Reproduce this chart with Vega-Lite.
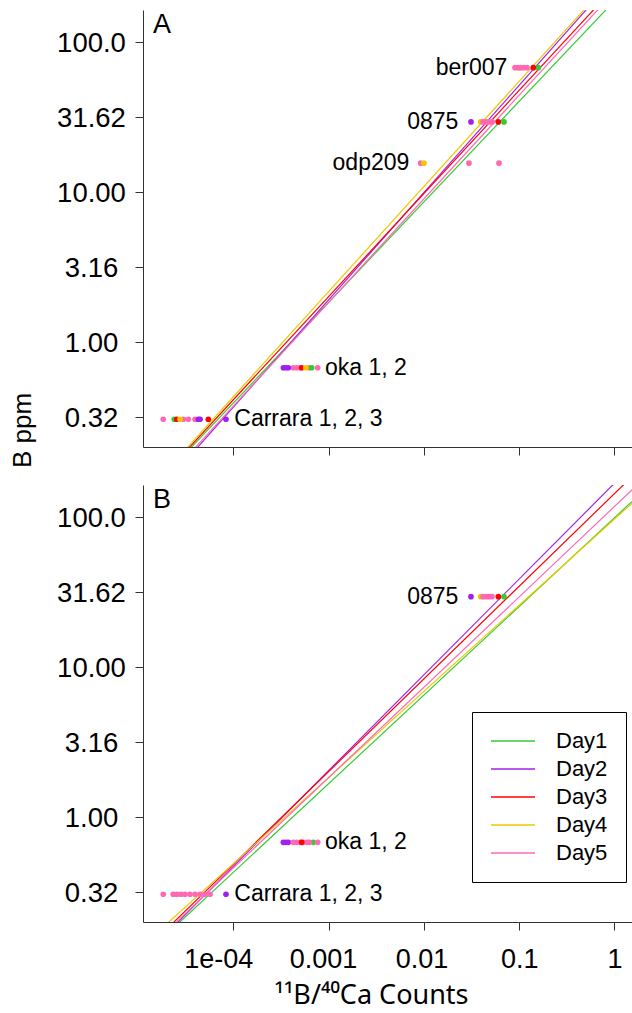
{
  "$schema": "https://vega.github.io/schema/vega-lite/v6.json",
  "background": "white",
  "padding": {"left": 9, "top": 10, "right": 0, "bottom": 4},
  "config": {
    "font": "Liberation Sans",
    "view": {"stroke": null},
    "axis": {"grid": false, "domainColor": "#333", "tickColor": "#333", "labelColor": "black", "titleColor": "black", "titleFontWeight": "normal", "labelFont": "Liberation Sans", "titleFont": "Liberation Sans"}
  },
  "datasets": {
    "lines": [
      {"panel": "A", "day": "Day1", "x": 1.0990, "y": 199.53}, {"panel": "A", "day": "Day1", "x": 2.606e-5, "y": 0.15849},
      {"panel": "A", "day": "Day2", "x": 0.6683, "y": 199.53}, {"panel": "A", "day": "Day2", "x": 3.105e-5, "y": 0.15849},
      {"panel": "A", "day": "Day3", "x": 0.8091, "y": 199.53}, {"panel": "A", "day": "Day3", "x": 2.512e-5, "y": 0.15849},
      {"panel": "A", "day": "Day4", "x": 0.6383, "y": 199.53}, {"panel": "A", "day": "Day4", "x": 2.415e-5, "y": 0.15849},
      {"panel": "A", "day": "Day5", "x": 0.8933, "y": 199.53}, {"panel": "A", "day": "Day5", "x": 2.911e-5, "y": 0.15849},
      {"panel": "B", "day": "Day1", "x": 3.311, "y": 199.53}, {"panel": "B", "day": "Day1", "x": 1.879e-5, "y": 0.15849},
      {"panel": "B", "day": "Day2", "x": 1.318, "y": 199.53}, {"panel": "B", "day": "Day2", "x": 1.849e-5, "y": 0.15849},
      {"panel": "B", "day": "Day3", "x": 1.722, "y": 199.53}, {"panel": "B", "day": "Day3", "x": 1.656e-5, "y": 0.15849},
      {"panel": "B", "day": "Day4", "x": 3.548, "y": 199.53}, {"panel": "B", "day": "Day4", "x": 1.422e-5, "y": 0.15849},
      {"panel": "B", "day": "Day5", "x": 2.421, "y": 199.53}, {"panel": "B", "day": "Day5", "x": 1.742e-5, "y": 0.15849}
    ],
    "points": [
      {"panel": "A", "sample": "ber007", "day": "Day1", "x": 0.1585, "y": 67.1},
      {"panel": "A", "sample": "ber007", "day": "Day3", "x": 0.1406, "y": 67.1},
      {"panel": "A", "sample": "ber007", "day": "Day4", "x": 0.1019, "y": 67.1},
      {"panel": "A", "sample": "ber007", "day": "Day5", "x": 0.0904, "y": 67.1},
      {"panel": "A", "sample": "ber007", "day": "Day5", "x": 0.0971, "y": 67.1},
      {"panel": "A", "sample": "ber007", "day": "Day5", "x": 0.1044, "y": 67.1},
      {"panel": "A", "sample": "ber007", "day": "Day5", "x": 0.1122, "y": 67.1},
      {"panel": "A", "sample": "ber007", "day": "Day5", "x": 0.1207, "y": 67.1},
      {"panel": "A", "sample": "0875", "day": "Day1", "x": 0.0693, "y": 29.2},
      {"panel": "A", "sample": "0875", "day": "Day2", "x": 0.0312, "y": 29.2},
      {"panel": "A", "sample": "0875", "day": "Day3", "x": 0.0604, "y": 29.2},
      {"panel": "A", "sample": "0875", "day": "Day4", "x": 0.0394, "y": 29.2},
      {"panel": "A", "sample": "0875", "day": "Day5", "x": 0.0417, "y": 29.2},
      {"panel": "A", "sample": "0875", "day": "Day5", "x": 0.0449, "y": 29.2},
      {"panel": "A", "sample": "0875", "day": "Day5", "x": 0.0482, "y": 29.2},
      {"panel": "A", "sample": "0875", "day": "Day5", "x": 0.0518, "y": 29.2},
      {"panel": "A", "sample": "odp209", "day": "Day5", "x": 0.00925, "y": 15.5},
      {"panel": "A", "sample": "odp209", "day": "Day4", "x": 0.01002, "y": 15.5},
      {"panel": "A", "sample": "odp209", "day": "Day5", "x": 0.0297, "y": 15.5},
      {"panel": "A", "sample": "odp209", "day": "Day5", "x": 0.0614, "y": 15.5},
      {"panel": "A", "sample": "oka", "day": "Day5", "x": 0.000426, "y": 0.67},
      {"panel": "A", "sample": "oka", "day": "Day5", "x": 0.000461, "y": 0.67},
      {"panel": "A", "sample": "oka", "day": "Day5", "x": 0.000501, "y": 0.67},
      {"panel": "A", "sample": "oka", "day": "Day5", "x": 0.000627, "y": 0.67},
      {"panel": "A", "sample": "oka", "day": "Day5", "x": 0.000769, "y": 0.67},
      {"panel": "A", "sample": "oka", "day": "Day1", "x": 0.000665, "y": 0.67},
      {"panel": "A", "sample": "oka", "day": "Day2", "x": 0.000335, "y": 0.67},
      {"panel": "A", "sample": "oka", "day": "Day2", "x": 0.000357, "y": 0.67},
      {"panel": "A", "sample": "oka", "day": "Day2", "x": 0.000378, "y": 0.67},
      {"panel": "A", "sample": "oka", "day": "Day3", "x": 0.000522, "y": 0.67},
      {"panel": "A", "sample": "oka", "day": "Day4", "x": 0.000575, "y": 0.67},
      {"panel": "A", "sample": "Carrara", "day": "Day5", "x": 1.84e-5, "y": 0.304},
      {"panel": "A", "sample": "Carrara", "day": "Day5", "x": 2.99e-5, "y": 0.304},
      {"panel": "A", "sample": "Carrara", "day": "Day5", "x": 3.37e-5, "y": 0.304},
      {"panel": "A", "sample": "Carrara", "day": "Day5", "x": 3.97e-5, "y": 0.304},
      {"panel": "A", "sample": "Carrara", "day": "Day1", "x": 2.40e-5, "y": 0.304},
      {"panel": "A", "sample": "Carrara", "day": "Day3", "x": 2.55e-5, "y": 0.304},
      {"panel": "A", "sample": "Carrara", "day": "Day4", "x": 2.76e-5, "y": 0.304},
      {"panel": "A", "sample": "Carrara", "day": "Day3", "x": 5.47e-5, "y": 0.304},
      {"panel": "A", "sample": "Carrara", "day": "Day2", "x": 4.29e-5, "y": 0.304},
      {"panel": "A", "sample": "Carrara", "day": "Day2", "x": 4.48e-5, "y": 0.304},
      {"panel": "A", "sample": "Carrara", "day": "Day2", "x": 8.38e-5, "y": 0.304},
      {"panel": "B", "sample": "0875", "day": "Day1", "x": 0.0693, "y": 29.3},
      {"panel": "B", "sample": "0875", "day": "Day2", "x": 0.0312, "y": 29.3},
      {"panel": "B", "sample": "0875", "day": "Day3", "x": 0.0604, "y": 29.3},
      {"panel": "B", "sample": "0875", "day": "Day4", "x": 0.0394, "y": 29.3},
      {"panel": "B", "sample": "0875", "day": "Day5", "x": 0.0417, "y": 29.3},
      {"panel": "B", "sample": "0875", "day": "Day5", "x": 0.0449, "y": 29.3},
      {"panel": "B", "sample": "0875", "day": "Day5", "x": 0.0482, "y": 29.3},
      {"panel": "B", "sample": "0875", "day": "Day5", "x": 0.0518, "y": 29.3},
      {"panel": "B", "sample": "oka", "day": "Day2", "x": 0.000335, "y": 0.675},
      {"panel": "B", "sample": "oka", "day": "Day2", "x": 0.000357, "y": 0.675},
      {"panel": "B", "sample": "oka", "day": "Day2", "x": 0.000378, "y": 0.675},
      {"panel": "B", "sample": "oka", "day": "Day1", "x": 0.00069, "y": 0.675},
      {"panel": "B", "sample": "oka", "day": "Day5", "x": 0.000426, "y": 0.675},
      {"panel": "B", "sample": "oka", "day": "Day5", "x": 0.000461, "y": 0.675},
      {"panel": "B", "sample": "oka", "day": "Day5", "x": 0.000501, "y": 0.675},
      {"panel": "B", "sample": "oka", "day": "Day5", "x": 0.00054, "y": 0.675},
      {"panel": "B", "sample": "oka", "day": "Day5", "x": 0.00059, "y": 0.675},
      {"panel": "B", "sample": "oka", "day": "Day5", "x": 0.000627, "y": 0.675},
      {"panel": "B", "sample": "oka", "day": "Day5", "x": 0.000769, "y": 0.675},
      {"panel": "B", "sample": "oka", "day": "Day3", "x": 0.000522, "y": 0.675},
      {"panel": "B", "sample": "Carrara", "day": "Day2", "x": 8.38e-5, "y": 0.304},
      {"panel": "B", "sample": "Carrara", "day": "Day5", "x": 1.84e-5, "y": 0.304},
      {"panel": "B", "sample": "Carrara", "day": "Day5", "x": 2.34e-5, "y": 0.304},
      {"panel": "B", "sample": "Carrara", "day": "Day5", "x": 2.56e-5, "y": 0.304},
      {"panel": "B", "sample": "Carrara", "day": "Day5", "x": 2.82e-5, "y": 0.304},
      {"panel": "B", "sample": "Carrara", "day": "Day5", "x": 3.11e-5, "y": 0.304},
      {"panel": "B", "sample": "Carrara", "day": "Day5", "x": 3.51e-5, "y": 0.304},
      {"panel": "B", "sample": "Carrara", "day": "Day5", "x": 3.97e-5, "y": 0.304},
      {"panel": "B", "sample": "Carrara", "day": "Day5", "x": 4.48e-5, "y": 0.304},
      {"panel": "B", "sample": "Carrara", "day": "Day5", "x": 5.04e-5, "y": 0.304},
      {"panel": "B", "sample": "Carrara", "day": "Day5", "x": 5.70e-5, "y": 0.304}
    ],
    "labels": [
      {"panel": "A", "text": "ber007", "side": "right", "x": 0.0750, "y": 67.1},
      {"panel": "A", "text": "0875", "side": "right", "x": 0.0230, "y": 29.2},
      {"panel": "A", "text": "odp209", "side": "right", "x": 0.00703, "y": 15.5},
      {"panel": "A", "text": "oka 1, 2", "side": "left", "x": 0.000916, "y": 0.67},
      {"panel": "A", "text": "Carrara 1, 2, 3", "side": "left", "x": 0.0001024, "y": 0.304},
      {"panel": "B", "text": "0875", "side": "right", "x": 0.0230, "y": 29.3},
      {"panel": "B", "text": "oka 1, 2", "side": "left", "x": 0.000916, "y": 0.675},
      {"panel": "B", "text": "Carrara 1, 2, 3", "side": "left", "x": 0.0001024, "y": 0.304}
    ],
    "letters": [
      {"panel": "A", "text": "A", "x": 1.436e-5, "y": 113.8},
      {"panel": "B", "text": "B", "x": 1.436e-5, "y": 113.8}
    ]
  },
  "bounds": "flush",
  "spacing": 38,
  "resolve": {"legend": {"color": "independent"}},
  "vconcat": [
    {
      "width": 489,
      "height": 437,
      "encoding": {
        "x": {"field": "x", "type": "quantitative", "scale": {"type": "log", "domain": [1.1284e-5, 1.5264], "nice": false},
          "axis": {"values": [0.0001, 0.001, 0.01, 0.1, 1], "labels": false, "title": null, "tickSize": 8}},
        "y": {"field": "y", "type": "quantitative", "scale": {"type": "log", "domain": [0.19861, 162.69], "nice": false},
          "axis": {"values": [0.316228, 1, 3.16228, 10, 31.6228, 100],
            "labelExpr": "datum.value < 0.5 ? '0.32' : datum.value < 2 ? '1.00' : datum.value < 5 ? '3.16' : datum.value < 20 ? '10.00' : datum.value < 50 ? '31.62' : '100.0'",
            "labelAlign": "center", "labelBaseline": "middle", "labelOffset": 1.5, "labelPadding": 44, "labelFontSize": 27.5, "tickSize": 8,
            "title": "B ppm", "titleFontSize": 26, "titleAngle": 270, "titleAlign": "center", "titleBaseline": "alphabetic", "titleX": -113, "titleY": 420}}
      },
      "layer": [
        {"data": {"name": "lines"}, "transform": [{"filter": "datum.panel === 'A'"}],
         "mark": {"type": "line", "clip": true, "strokeWidth": 1.2},
         "encoding": {"color": {"field": "day", "type": "nominal", "scale": {"domain": ["Day1", "Day2", "Day3", "Day4", "Day5"], "range": ["#32CD32", "#A020F0", "#FF0000", "#EEC900", "#FF69B4"]}, "legend": null}}},
        {"data": {"name": "points"}, "transform": [{"filter": "datum.panel === 'A'"}],
         "mark": {"type": "circle", "size": 32, "opacity": 1},
         "encoding": {"fill": {"field": "day", "type": "nominal", "scale": {"domain": ["Day1", "Day2", "Day3", "Day4", "Day5"], "range": ["#32CD32", "#A020F0", "#FF0000", "#EEC900", "#FF69B4"]}, "legend": null}}},
        {"data": {"name": "labels"}, "transform": [{"filter": "datum.panel === 'A' && datum.side === 'right'"}],
         "mark": {"type": "text", "align": "right", "baseline": "middle", "fontSize": 23, "color": "black"},
         "encoding": {"text": {"field": "text"}}},
        {"data": {"name": "labels"}, "transform": [{"filter": "datum.panel === 'A' && datum.side === 'left'"}],
         "mark": {"type": "text", "align": "left", "baseline": "middle", "fontSize": 23, "color": "black"},
         "encoding": {"text": {"field": "text"}}},
        {"data": {"name": "letters"}, "transform": [{"filter": "datum.panel === 'A'"}],
         "mark": {"type": "text", "align": "left", "baseline": "alphabetic", "fontSize": 27, "color": "black"},
         "encoding": {"text": {"field": "text"}}}
      ]
    },
    {
      "width": 489,
      "height": 437,
      "encoding": {
        "x": {"field": "x", "type": "quantitative", "scale": {"type": "log", "domain": [1.1284e-5, 1.5264], "nice": false},
          "axis": {"values": [0.0001, 0.001, 0.01, 0.1, 1],
            "labelExpr": "datum.value < 0.0005 ? '1e-04' : datum.value < 0.005 ? '0.001' : datum.value < 0.05 ? '0.01' : datum.value < 0.5 ? '0.1' : '1'",
            "labelFontSize": 27, "labelBaseline": "alphabetic", "labelPadding": 37.7, "tickSize": 8,
            "labelOffset": {"condition": [{"test": "datum.value < 0.0005", "value": -15}, {"test": "datum.value < 0.005", "value": -5.5}, {"test": "datum.value < 0.05", "value": -2.3}], "value": 0},
            "title": "¹¹B/⁴⁰Ca Counts", "titleFont": "Noto Sans", "titleFontSize": 27, "titleX": 228, "titleY": 81, "titleAlign": "center", "titleBaseline": "alphabetic"}},
        "y": {"field": "y", "type": "quantitative", "scale": {"type": "log", "domain": [0.19861, 162.69], "nice": false},
          "axis": {"values": [0.316228, 1, 3.16228, 10, 31.6228, 100],
            "labelExpr": "datum.value < 0.5 ? '0.32' : datum.value < 2 ? '1.00' : datum.value < 5 ? '3.16' : datum.value < 20 ? '10.00' : datum.value < 50 ? '31.62' : '100.0'",
            "labelAlign": "center", "labelBaseline": "middle", "labelOffset": 1.5, "labelPadding": 44, "labelFontSize": 27.5, "tickSize": 8,
            "title": null}}
      },
      "layer": [
        {"data": {"name": "lines"}, "transform": [{"filter": "datum.panel === 'B'"}],
         "mark": {"type": "line", "clip": true, "strokeWidth": 1.2},
         "encoding": {"color": {"field": "day", "type": "nominal", "scale": {"domain": ["Day1", "Day2", "Day3", "Day4", "Day5"], "range": ["#32CD32", "#A020F0", "#FF0000", "#EEC900", "#FF69B4"]},
           "legend": {"title": null, "orient": "none", "legendX": 329, "legendY": 227, "symbolType": "stroke", "symbolSize": 1936, "symbolStrokeWidth": 1.5, "labelFontSize": 22, "labelColor": "black", "labelOffset": 20, "strokeColor": "black", "fillColor": "white", "padding": 18, "rowPadding": 6, "clipHeight": 22}}}},
        {"data": {"name": "points"}, "transform": [{"filter": "datum.panel === 'B'"}],
         "mark": {"type": "circle", "size": 32, "opacity": 1},
         "encoding": {"fill": {"field": "day", "type": "nominal", "scale": {"domain": ["Day1", "Day2", "Day3", "Day4", "Day5"], "range": ["#32CD32", "#A020F0", "#FF0000", "#EEC900", "#FF69B4"]}, "legend": null}}},
        {"data": {"name": "labels"}, "transform": [{"filter": "datum.panel === 'B' && datum.side === 'right'"}],
         "mark": {"type": "text", "align": "right", "baseline": "middle", "fontSize": 23, "color": "black"},
         "encoding": {"text": {"field": "text"}}},
        {"data": {"name": "labels"}, "transform": [{"filter": "datum.panel === 'B' && datum.side === 'left'"}],
         "mark": {"type": "text", "align": "left", "baseline": "middle", "fontSize": 23, "color": "black"},
         "encoding": {"text": {"field": "text"}}},
        {"data": {"name": "letters"}, "transform": [{"filter": "datum.panel === 'B'"}],
         "mark": {"type": "text", "align": "left", "baseline": "alphabetic", "fontSize": 27, "color": "black"},
         "encoding": {"text": {"field": "text"}}}
      ]
    }
  ]
}
